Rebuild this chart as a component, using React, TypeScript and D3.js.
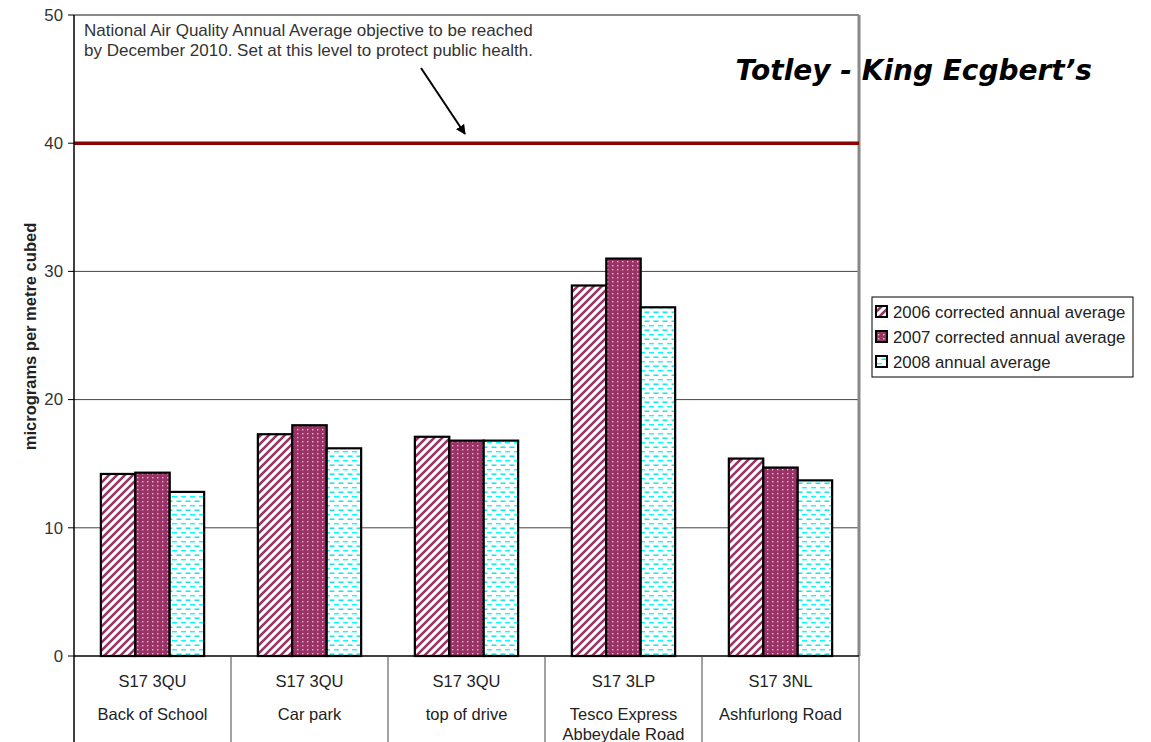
import * as d3 from "d3";

const postcodes = ["S17 3QU", "S17 3QU", "S17 3QU", "S17 3LP", "S17 3NL"];
const places = [
  ["Back of School"],
  ["Car park"],
  ["top of drive"],
  ["Tesco Express", "Abbeydale Road"],
  ["Ashfurlong Road"],
];
const seriesNames = [
  "2006 corrected annual average",
  "2007 corrected annual average",
  "2008 annual average",
];
const values2006 = [14.2, 17.3, 17.1, 28.9, 15.4];
const values2007 = [14.3, 18.0, 16.8, 31.0, 14.7];
const values2008 = [12.8, 16.2, 16.8, 27.2, 13.7];
const yTicks = [0, 10, 20, 30, 40, 50];
const objective = 40;

const W = 1151;
const H = 742;
const plot = { left: 74, right: 859, top: 15, bottom: 656 };
const font = "'Liberation Sans', Arial, Helvetica, sans-serif";
const fills = ["url(#p2006)", "url(#p2007)", "url(#p2008)"];

export default function App() {
  const series = [values2006, values2007, values2008];
  const idx = postcodes.map((_, i) => String(i));

  const x = d3.scaleBand().domain(idx).range([plot.left, plot.right]);
  const xs = d3
    .scaleBand()
    .domain(["0", "1", "2"])
    .range([0, x.bandwidth()])
    .paddingInner(0)
    .paddingOuter(0.78);
  const y = d3.scaleLinear().domain([0, 50]).range([plot.bottom, plot.top]);

  return (
    <svg
      width={W}
      height={H}
      style={{ position: "absolute", left: 0, top: 0, display: "block", background: "#fff" }}
      fontFamily={font}
    >
      <defs>
        <pattern id="p2006" width="8" height="8" patternUnits="userSpaceOnUse">
          <rect width="8" height="8" fill="#fff" />
          <path d="M-2,2 L2,-2 M0,8 L8,0 M6,10 L10,6" stroke="#993366" strokeWidth="2.6" />
        </pattern>
        <pattern id="p2007" width="5" height="4" patternUnits="userSpaceOnUse">
          <rect width="5" height="4" fill="#993366" />
          <rect x="2" y="1" width="1.4" height="1.4" fill="#e6b8d2" />
        </pattern>
        <pattern id="p2008" width="9" height="9" patternUnits="userSpaceOnUse">
          <rect width="9" height="9" fill="#fff" />
          <rect x="1" y="1" width="5" height="1.4" fill="#00ffff" />
          <rect x="5.5" y="5.5" width="5" height="1.4" fill="#00e5e5" />
          <rect x="-3.5" y="5.5" width="5" height="1.4" fill="#00e5e5" />
        </pattern>
        <marker id="arrow" viewBox="0 0 10 10" refX="9" refY="5" markerWidth="5" markerHeight="5" orient="auto">
          <path d="M0,0 L10,5 L0,10 z" fill="#000" />
        </marker>
      </defs>

      {/* gridlines */}
      {yTicks
        .filter((t) => t > 0 && t < 40)
        .map((t) => (
          <line key={t} x1={plot.left} x2={plot.right} y1={y(t)} y2={y(t)} stroke="#444" strokeWidth={1} />
        ))}

      {/* top and right frame */}
      <line x1={plot.left} x2={plot.right} y1={plot.top} y2={plot.top} stroke="#888" strokeWidth={2} />
      <line x1={plot.right} x2={plot.right} y1={plot.top} y2={plot.bottom} stroke="#888" strokeWidth={3} />

      {/* objective line */}
      <line
        x1={plot.left}
        x2={plot.right}
        y1={y(objective)}
        y2={y(objective)}
        stroke="#8b0000"
        strokeWidth={3.5}
      />

      {/* bars */}
      {series.map((vals, s) =>
        vals.map((v, i) => (
          <rect
            key={`${s}-${i}`}
            x={(x(String(i)) ?? 0) + (xs(String(s)) ?? 0)}
            y={y(v)}
            width={xs.bandwidth()}
            height={y(0) - y(v)}
            fill={fills[s]}
            stroke="#000"
            strokeWidth={2.2}
          />
        ))
      )}

      {/* y axis */}
      <line x1={plot.left} x2={plot.left} y1={plot.top} y2={H} stroke="#000" strokeWidth={1.5} />
      {yTicks.map((t) => (
        <g key={t}>
          <line x1={plot.left - 6} x2={plot.left} y1={y(t)} y2={y(t)} stroke="#000" strokeWidth={1} />
          <text x={plot.left - 11} y={y(t)} dy="0.35em" textAnchor="end" fontSize={16.8} fill="#333">
            {t}
          </text>
        </g>
      ))}
      <text
        transform={`translate(36,${(y(50) + y(0)) / 2 + 1}) rotate(-90)`}
        textAnchor="middle"
        fontSize={16.5}
        fontWeight="bold"
        fill="#222"
      >
        micrograms per metre cubed
      </text>

      {/* category table */}
      <line x1={plot.left} x2={plot.right} y1={plot.bottom} y2={plot.bottom} stroke="#000" strokeWidth={1.5} />
      {idx.map((d, i) => (
        <g key={d}>
          <line
            x1={(x(d) ?? 0) + x.bandwidth()}
            x2={(x(d) ?? 0) + x.bandwidth()}
            y1={plot.bottom}
            y2={H}
            stroke="#444"
            strokeWidth={1}
          />
          <text x={(x(d) ?? 0) + x.bandwidth() / 2} y={687} textAnchor="middle" fontSize={16.5} fill="#222">
            {postcodes[i]}
          </text>
          {places[i].map((p, j) => (
            <text
              key={j}
              x={(x(d) ?? 0) + x.bandwidth() / 2}
              y={720 + j * 20}
              textAnchor="middle"
              fontSize={16.5}
              fill="#222"
            >
              {p}
            </text>
          ))}
        </g>
      ))}

      {/* annotation */}
      <text x={84} y={36} fontSize={17} fill="#333">
        National Air Quality Annual Average objective to be reached
      </text>
      <text x={84} y={56} fontSize={17} fill="#333">
        by December 2010. Set at this level to protect public health.
      </text>
      <line x1={421} y1={68} x2={465} y2={134} stroke="#000" strokeWidth={2} markerEnd="url(#arrow)" />

      {/* title */}
      <text
        x={1092}
        y={80}
        textAnchor="end"
        fontSize={28}
        fontWeight="bold"
        fontStyle="italic"
        fontFamily="'DejaVu Sans', sans-serif"
        fill="#000"
      >
        Totley - King Ecgbert’s
      </text>

      {/* legend */}
      <rect x={872} y={297} width={261} height={80} fill="#fff" stroke="#000" strokeWidth={1} />
      {seriesNames.map((n, s) => (
        <g key={n} transform={`translate(876,${312 + s * 25})`}>
          <rect x={0} y={-6} width={11} height={11} fill={fills[s]} stroke="#000" strokeWidth={2} />
          <text x={17} y={0} dy="0.35em" fontSize={16.8} fill="#222">
            {n}
          </text>
        </g>
      ))}
    </svg>
  );
}
